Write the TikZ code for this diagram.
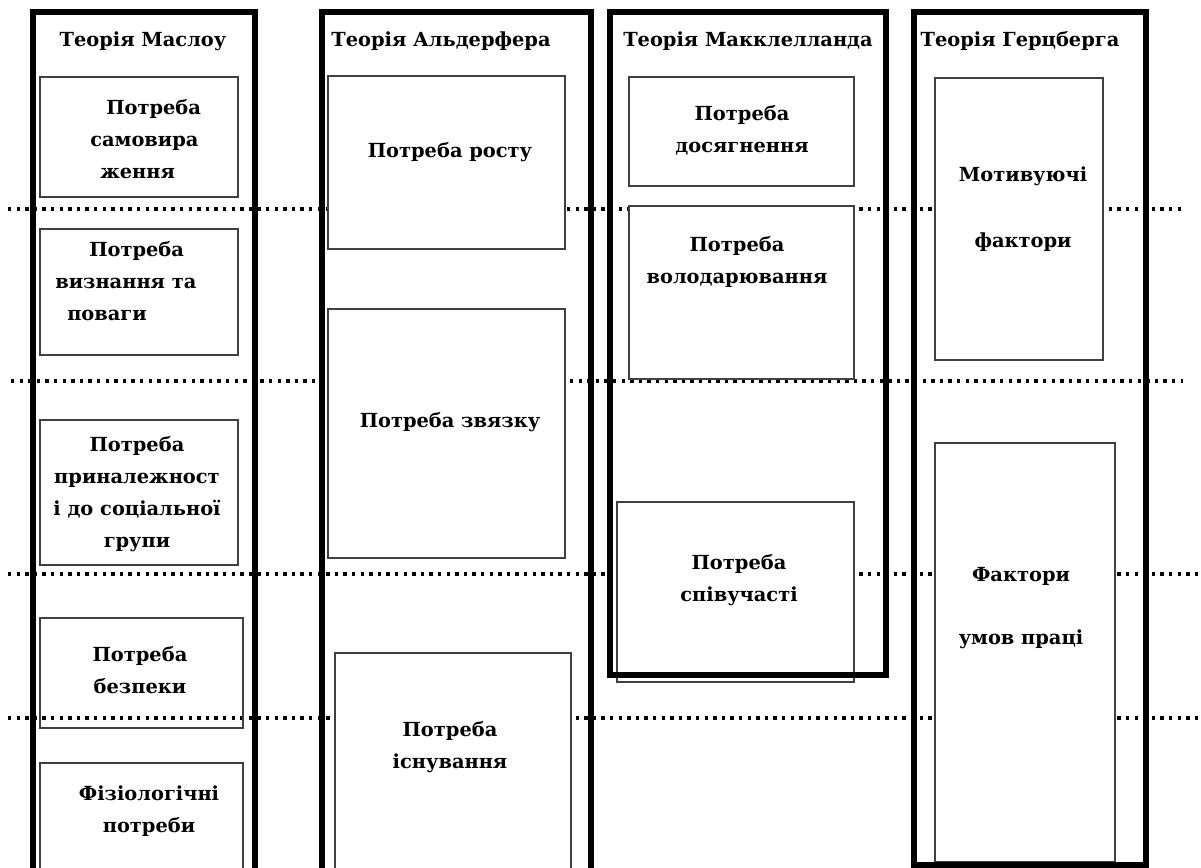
\documentclass[tikz,border=0pt]{standalone}
\usepackage{fontspec}
\setmainfont{DejaVu Serif}
\begin{document}
\begin{tikzpicture}[x=0.25mm, y=-0.25mm,
    every node/.style={font=\bfseries\fontsize{13.8}{22.6}\selectfont, align=center, inner sep=0pt},
    frame/.style={line width=1.5mm},
    need/.style={draw=black!75, line width=0.3mm},
    needw/.style={need, fill=white},
    level/.style={line width=0.9mm, dash pattern=on 0.85mm off 1.3mm}]
  \useasboundingbox (0,0) rectangle (1201,868);
  \draw[level] (8,209) -- (1185,209);
  \draw[level] (11,381) -- (1183,381);
  \draw[level] (8,574) -- (1201,574);
  \draw[level] (8,718) -- (1201,718);

  \draw[need] (40,77) rectangle (238,197);
  \draw[need] (40,229) rectangle (238,355);
  \draw[need] (40,420) rectangle (238,565);
  \draw[need] (40,618) rectangle (243,728);
  \draw[need] (40,763) rectangle (243,880);

  \draw[needw] (328,76) rectangle (565,249);
  \draw[needw] (328,309) rectangle (565,558);
  \draw[needw] (335,653) rectangle (571,880);

  \draw[needw] (629,77) rectangle (854,186);
  \draw[needw] (629,206) rectangle (854,379);
  \draw[needw] (617,502) rectangle (854,682);

  \draw[needw] (935,78) rectangle (1103,360);
  \draw[needw] (935,443) rectangle (1115,862);

  \draw[frame] (33,880) -- (33,12) -- (255,12) -- (255,880);
  \draw[frame] (322,880) -- (322,12) -- (591,12) -- (591,880);
  \draw[frame] (610,12) rectangle (886,675);
  \draw[frame] (914,12) rectangle (1146,865);

  \node (maslow) at (143,41) {Теорія Маслоу};
  \node (alderfer) at (441,41) {Теорія Альдерфера};
  \node (mcclelland) at (748,41) {Теорія Макклелланда};
  \node (herzberg) at (1020,41) {Теорія Герцберга};

  \node[align=left, anchor=west] (self) at (90,139) {\hspace*{4mm}Потреба\\самовира\\\hspace*{2.5mm}ження};
  \node[align=left, anchor=west] (esteem) at (55,281) {\hspace*{8.5mm}Потреба\\визнання та\\\hspace*{3mm}поваги};
  \node (social) at (137,494) {Потреба\\приналежност\\і до соціальної\\групи};
  \node (safety) at (140,670) {Потреба\\безпеки};
  \node (physio) at (149,811) {Фізіологічні\\потреби};

  \node (growth) at (450,152) {Потреба росту};
  \node (relate) at (450,422) {Потреба звязку};
  \node (exist) at (450,747) {Потреба\\існування};

  \node (achieve) at (742,130) {Потреба\\досягнення};
  \node (power) at (737,262) {Потреба\\володарювання};
  \node (affil) at (739,580) {Потреба\\співучасті};

  \node (motiv) at (1023,209) {Мотивуючі\\[24pt]фактори};
  \node (hygiene) at (1021,608) {Фактори\\[22pt]умов праці};
\end{tikzpicture}
\end{document}
